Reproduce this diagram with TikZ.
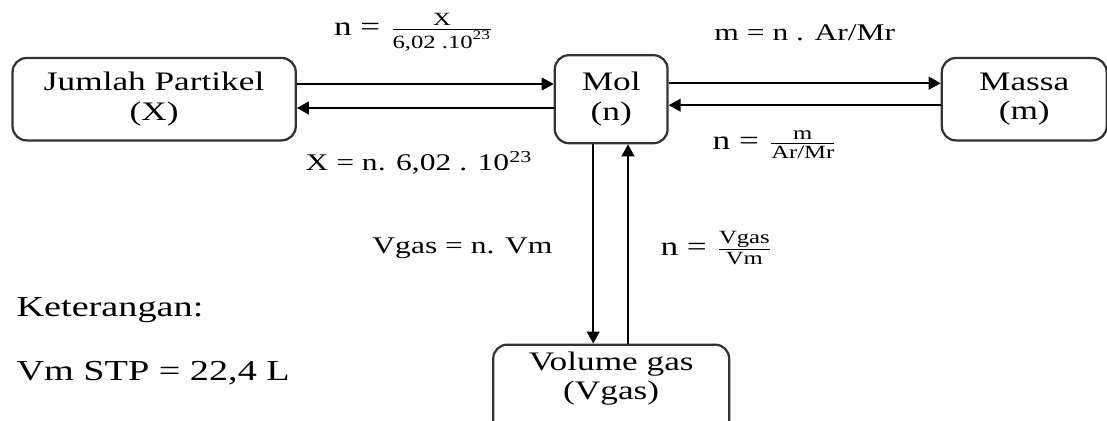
\documentclass[tikz,border=0pt]{standalone}
\usepackage{amsmath}
\usepackage{fontspec}
\setmainfont{Liberation Serif}[FakeStretch=1.32]
\usetikzlibrary{arrows.meta, positioning, calc}

\begin{document}
\begin{tikzpicture}[
    box/.style={rectangle, draw=black!80, line width=0.8pt, rounded corners=5pt, align=center, inner sep=0pt, font=\fontsize{9.5}{10.5}\selectfont},
    lbl/.style={inner sep=1pt, font=\fontsize{8.5}{10}\selectfont},
    fraclbl/.style={inner sep=1pt, font=\fontsize{9.5}{11}\selectfont},
    note/.style={inner sep=0pt, anchor=west, font=\fontsize{10.3}{12}\selectfont},
    arrow/.style={-{Triangle[length=1.5mm, width=1.6mm]}, line width=0.6pt}
]
\useasboundingbox (0,0) rectangle (13.8375,-5.2625);
\clip (0,0) rectangle (13.8375,-5.2625);

% Boxes: Mol in the middle, the others round it
\node[box, minimum width=1.41cm, minimum height=1.1cm] at (7.64,-1.24) (mol) {Mol\\(n)};
\node[box, minimum width=3.54cm, minimum height=1.03cm, left=3.21cm of mol] (partikel) {Jumlah Partikel\\(X)};
\node[box, minimum width=2.06cm, minimum height=1.03cm, right=3.4cm of mol] (massa) {Massa\\(m)};
\node[box, minimum width=2.95cm, minimum height=1.15cm, below=2.49cm of mol] (volume) {Volume gas\\(Vgas)\\\mbox{}};

% Formulas
\node[fraclbl] at (5.18,-0.40) (fX) {n = $\frac{\text{X}}{\text{6,02 .10\textsuperscript{23}}}$};
\node[lbl] at (5.24,-2.04) (fXn) {X = n. 6,02 . 10\textsuperscript{23}};
\node[lbl] at (10.06,-0.41) (fm) {m = n . Ar/Mr};
\node[fraclbl] at (9.69,-1.81) (fnm) {n = $\frac{\text{m}}{\text{Ar/Mr}}$};
\node[lbl] at (5.78,-3.10) (fV) {Vgas = n. Vm};
\node[fraclbl] at (8.96,-3.10) (fnV) {n = $\frac{\text{Vgas}}{\text{Vm}}$};

% Note
\node[note] at (0.2,-3.875) (ket) {Keterangan:};
\node[note] at (0.2,-4.66) (stp) {Vm STP = 22,4 L};

% === Arrows ===
% Partikel <-> Mol
\draw[arrow] ([yshift=0.19cm]partikel.east) -- ([yshift=0.19cm]partikel.east -| mol.west);
\draw[arrow] ([yshift=-0.11cm]partikel.east -| mol.west) -- ([yshift=-0.11cm]partikel.east);

% Mol <-> Massa
\draw[arrow] ([yshift=0.2cm]mol.east) -- ([yshift=0.2cm]mol.east -| massa.west);
\draw[arrow] ([yshift=-0.075cm]mol.east -| massa.west) -- ([yshift=-0.075cm]mol.east);

% Mol <-> Volume gas
\draw[arrow] ([xshift=-0.225cm]mol.south) -- ([xshift=-0.225cm]mol.south |- volume.north);
\draw[arrow] ([xshift=0.21cm]mol.south |- volume.north) -- ([xshift=0.21cm]mol.south);
\end{tikzpicture}
\end{document}
